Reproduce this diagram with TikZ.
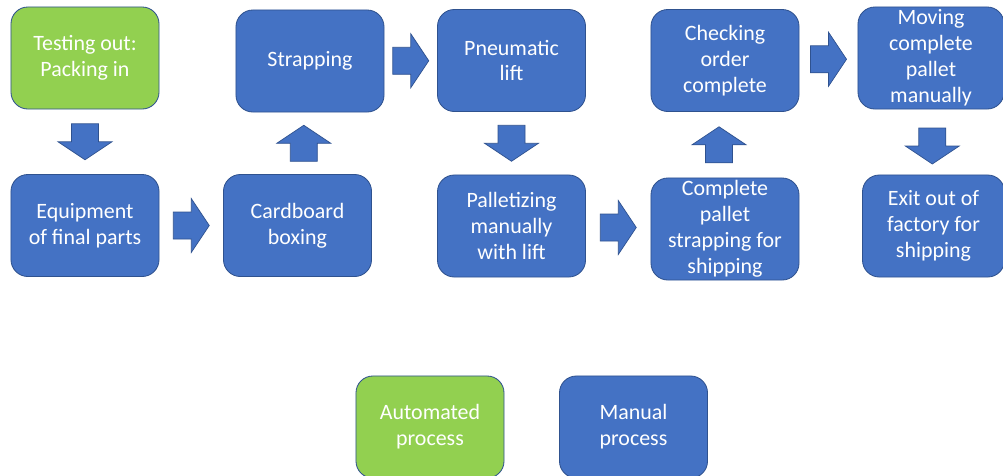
\documentclass[tikz,border=0pt]{standalone}
\usepackage{fontspec}
\setmainfont{Carlito}
\usetikzlibrary{calc}

\definecolor{manblue}{HTML}{4472C4}
\definecolor{autogreen}{HTML}{92D050}
\definecolor{edgeblue}{HTML}{2F528F}

\tikzset{
  procbox/.style={rectangle, rounded corners=12pt, draw=edgeblue, line width=0.6pt,
    minimum width=3.7cm, minimum height=2.55cm, align=center, text=white,
    font=\fontsize{15.6}{18.4}\selectfont, inner sep=0pt},
  manual/.style={procbox, fill=manblue},
  auto/.style={procbox, fill=autogreen},
  blockarrow/.pic={
    \filldraw[fill=manblue, draw=edgeblue, line width=0.5pt]
      (-18,-13.5) -- (0,-13.5) -- (0,-27) -- (18,0) -- (0,27) -- (0,13.5) -- (-18,13.5) -- cycle;
  }
}

\begin{document}
\begin{tikzpicture}[x=0.025cm, y=-0.025cm]

    \useasboundingbox (0,0) rectangle (1003,475);
    \clip (0,0) rectangle (1003,475);

    % Process boxes (top row)
    \node[auto]   (test)   at (85,58)    {Testing out:\\Packing in};
    \node[manual] (strap)  at (310,61)   {Strapping};
    \node[manual] (lift)   at (511.5,60.5) {Pneumatic\\lift};
    \node[manual] (check)  at (725,60.5) {Checking\\order\\complete};
    \node[manual, minimum width=3.65cm] (move) at (931,58) {Moving\\complete\\pallet\\manually};

    % Process boxes (bottom row)
    \node[manual] (equip)  at (85,225.5)  {Equipment\\of final parts};
    \node[manual] (card)   at (297.5,225.5) {Cardboard\\boxing};
    \node[manual] (pallet) at (511.5,226) {Palletizing\\manually\\with lift};
    \node[manual] (ship)   at (725,229)   {Complete\\pallet\\strapping for\\shipping};
    \node[manual, minimum width=3.55cm] (exit) at (933.5,226) {Exit out of\\factory for\\shipping};

    % Block arrows between the boxes
    \pic[rotate=-90] at ($(test.south)!0.5!(equip.north)$) {blockarrow};
    \pic at ($(equip.east)!0.5!(card.west)$) {blockarrow};
    \pic[rotate=90] at ($(card.north)!0.5!(strap.south)$) {blockarrow};
    \pic at ($(strap.east)!0.5!(lift.west)$) {blockarrow};
    \pic[rotate=-90] at ($(lift.south)!0.5!(pallet.north)$) {blockarrow};
    \pic at ($(pallet.east)!0.5!(ship.west)$) {blockarrow};
    \pic[rotate=90] at ($(ship.north)!0.5!(check.south)+(-6,0)$) {blockarrow};
    \pic at ($(check.east)!0.5!(move.west)$) {blockarrow};
    \pic[rotate=-90] at ($(move.south)!0.5!(exit.north)+(0,4)$) {blockarrow};

    % Legend
    \node[auto]   (legauto) at (430,427)   {Automated\\process};
    \node[manual] (legman)  at (633.5,427) {Manual\\process};

\end{tikzpicture}
\end{document}
